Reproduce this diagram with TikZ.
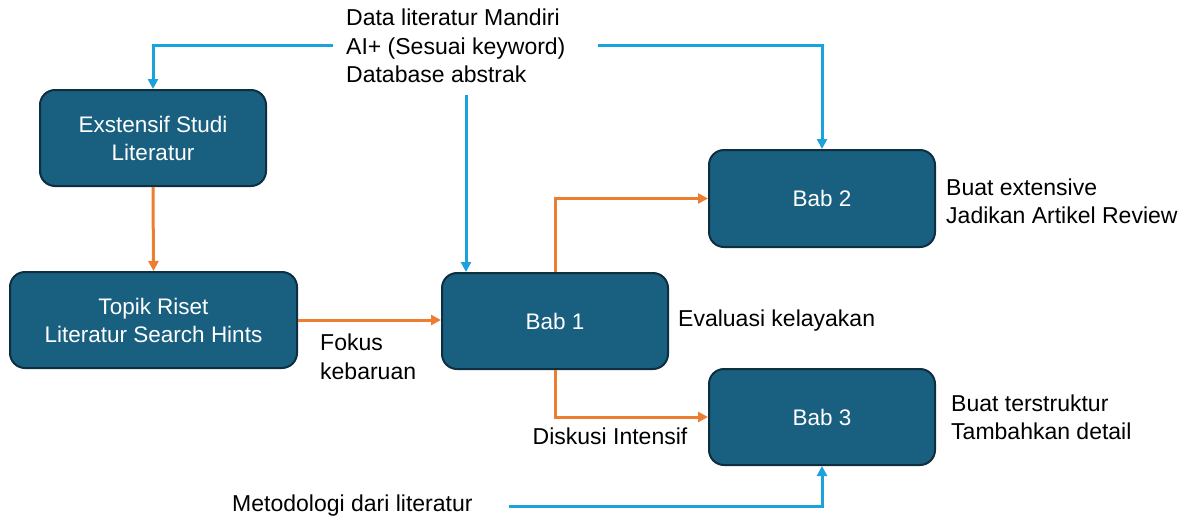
\documentclass[tikz,border=0pt]{standalone}
\usepackage{fontspec}
\setmainfont{Liberation Sans}
\usetikzlibrary{arrows.meta}
\definecolor{boxfill}{HTML}{185F80}
\definecolor{boxline}{HTML}{0E2F40}
\definecolor{orangeln}{HTML}{ED7D31}
\definecolor{blueln}{HTML}{1BA1DC}
\begin{document}
\begin{tikzpicture}[x=1pt,y=-1pt,
  box/.style={draw=boxline,line width=2pt,fill=boxfill,rounded corners=15pt,
    text=white,align=center,font=\fontsize{22.5}{28}\selectfont,inner sep=0pt},
  lbl/.style={align=left,anchor=west,font=\fontsize{23}{28.5}\selectfont,inner sep=0pt},
  oarr/.style={draw=orangeln,line width=3pt,-{Triangle[length=10pt,width=10pt]}},
  barr/.style={draw=blueln,line width=3pt,-{Triangle[length=10pt,width=10pt]}}]
\useasboundingbox (0,0) rectangle (1188,520);
\node[box,minimum width=226pt,minimum height=96pt] (ext) at (153,138) {Exstensif Studi\\Literatur};
\node[box,minimum width=287pt,minimum height=96pt] (top) at (153.5,320) {Topik Riset\\Literatur Search Hints};
\node[box,minimum width=226pt,minimum height=96pt] (b1) at (555,321) {Bab 1};
\node[box,minimum width=226pt,minimum height=97pt] (b2) at (822,198.5) {Bab 2};
\node[box,minimum width=226pt,minimum height=96pt] (b3) at (822,417) {Bab 3};

\node[lbl] (src) at (346,46) {Data literatur Mandiri\\AI+ (Sesuai keyword)\\Database abstrak};
\node[lbl] (fok) at (320,357) {Fokus\\kebaruan};
\node[lbl] (eva) at (678,321) {Evaluasi kelayakan};
\node[lbl,anchor=center] (dis) at (610,436) {Diskusi Intensif};
\node[lbl] (met) at (232,506) {Metodologi dari literatur};
\node[lbl] (b2t) at (946,201.5) {Buat extensive\\Jadikan Artikel Review};
\node[lbl] (b3t) at (951,417.5) {Buat terstruktur\\Tambahkan detail};

\coordinate (sl) at (333,45);
\coordinate (sr) at (598,45);
\coordinate (sd) at (466,95);
\coordinate (ms) at (509,506);

\draw[barr] (sl) -| (ext.north);
\draw[barr] (sr) -| (b2.north);
\draw[barr] (sd) -- (sd |- b1.north);
\draw[barr] (ms) -| (b3.south);

\draw[oarr] (ext.south) -- (top.north);
\draw[oarr] (top.east |- 0,320) -- (b1.west |- 0,320);
\draw[oarr] (b1.north) |- (b2.west);
\draw[oarr] (b1.south) |- (b3.west);
\end{tikzpicture}
\end{document}
